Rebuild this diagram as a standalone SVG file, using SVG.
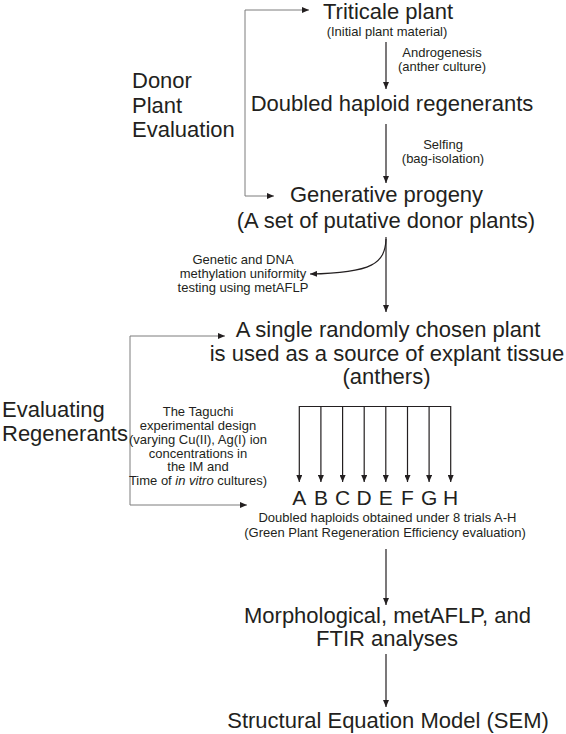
<svg xmlns="http://www.w3.org/2000/svg" width="566" height="734" viewBox="0 0 566 734">
<style>
text{font-family:"Liberation Sans",Arial,sans-serif;fill:#231f20}
.big{font-size:22px}
.sm{font-size:13px}
.trial{font-size:21px}
.mid{text-anchor:middle}
.ln{fill:none;stroke:#231f20;stroke-width:1.2}
.br{fill:none;stroke:#7d7d7d;stroke-width:1}
</style>
<defs>
<marker id="ah" viewBox="0 0 7 6" refX="7" refY="3" markerWidth="7" markerHeight="6" markerUnits="userSpaceOnUse" orient="auto"><path d="M0,0 L7,3 L0,6 z" fill="#231f20"/></marker>
<marker id="ahg" viewBox="0 0 7 6" refX="7" refY="3" markerWidth="7" markerHeight="6" markerUnits="userSpaceOnUse" orient="auto"><path d="M0,0 L7,3 L0,6 z" fill="#231f20"/></marker>
</defs>

<g id="connectors">
<path class="ln" d="M386,42 V89" marker-end="url(#ah)"/>
<path class="ln" d="M386,124 V183" marker-end="url(#ah)"/>
<path class="ln" d="M386,237 V312" marker-end="url(#ah)"/>
<path class="ln" d="M386,239 C385,263 373,273 310,274" marker-end="url(#ah)"/>
<path class="ln" d="M299.3,406.5 H450.7"/>
<path class="ln" d="M299.3,406 V482" marker-end="url(#ah)"/>
<path class="ln" d="M320.9,406 V482" marker-end="url(#ah)"/>
<path class="ln" d="M342.6,406 V482" marker-end="url(#ah)"/>
<path class="ln" d="M364.2,406 V482" marker-end="url(#ah)"/>
<path class="ln" d="M385.8,406 V482" marker-end="url(#ah)"/>
<path class="ln" d="M407.5,406 V482" marker-end="url(#ah)"/>
<path class="ln" d="M429.1,406 V482" marker-end="url(#ah)"/>
<path class="ln" d="M450.7,406 V482" marker-end="url(#ah)"/>
<path class="ln" d="M386,549 V605" marker-end="url(#ah)"/>
<path class="ln" d="M386,654 V707" marker-end="url(#ah)"/>
<path class="br" d="M245,10 V196"/>
<path class="br" d="M245,10 H309" marker-end="url(#ahg)"/>
<path class="br" d="M245,196 H274" marker-end="url(#ahg)"/>
<path class="br" d="M130,336 V505"/>
<path class="br" d="M130,336 H225" marker-end="url(#ahg)"/>
<path class="br" d="M130,505 H247" marker-end="url(#ahg)"/>
</g>

<g id="donor-label">
<text class="big" x="132" y="88">Donor</text>
<text class="big" x="132" y="113">Plant</text>
<text class="big" x="132" y="137">Evaluation</text>
</g>

<g id="triticale">
<text class="big mid" x="388" y="19">Triticale plant</text>
<text class="sm mid" x="387" y="36">(Initial plant material)</text>
</g>

<g id="androgenesis-label">
<text class="sm mid" x="442" y="57">Androgenesis</text>
<text class="sm mid" x="442" y="71">(anther culture)</text>
</g>

<g id="doubled-haploid">
<text class="big mid" x="392" y="111">Doubled haploid regenerants</text>
</g>

<g id="selfing-label">
<text class="sm mid" x="443" y="149">Selfing</text>
<text class="sm mid" x="443" y="163">(bag-isolation)</text>
</g>

<g id="generative">
<text class="big mid" x="386.5" y="202">Generative progeny</text>
<text class="big mid" x="386" y="228">(A set of putative donor plants)</text>
</g>

<g id="uniformity-label">
<text class="sm mid" x="243" y="264">Genetic and DNA</text>
<text class="sm mid" x="243" y="278">methylation uniformity</text>
<text class="sm mid" x="243" y="292">testing using metAFLP</text>
</g>

<g id="single-plant">
<text class="big mid" x="388" y="337">A single randomly chosen plant</text>
<text class="big mid" x="387" y="361">is used as a source of explant tissue</text>
<text class="big mid" x="386.5" y="384">(anthers)</text>
</g>

<g id="evaluating-label">
<text class="big" x="2" y="417">Evaluating</text>
<text class="big" x="2" y="441">Regenerants</text>
</g>

<g id="taguchi-label">
<text class="sm mid" x="198" y="416">The Taguchi</text>
<text class="sm mid" x="198" y="430">experimental design</text>
<text class="sm mid" x="198" y="444">(varying Cu(II), Ag(I) ion</text>
<text class="sm mid" x="198" y="457.5">concentrations in</text>
<text class="sm mid" x="198" y="471">the IM and</text>
<text class="sm mid" x="198" y="485">Time of <tspan font-style="italic">in vitro</tspan> cultures)</text>
</g>

<g id="trials">
<text class="trial mid" x="299.3" y="505">A</text>
<text class="trial mid" x="320.9" y="505">B</text>
<text class="trial mid" x="342.6" y="505">C</text>
<text class="trial mid" x="364.2" y="505">D</text>
<text class="trial mid" x="385.8" y="505">E</text>
<text class="trial mid" x="407.5" y="505">F</text>
<text class="trial mid" x="429.1" y="505">G</text>
<text class="trial mid" x="450.7" y="505">H</text>
<text class="sm mid" x="387.5" y="522">Doubled haploids obtained under 8 trials A-H</text>
<text class="sm mid" x="385" y="537">(Green Plant Regeneration Efficiency evaluation)</text>
</g>

<g id="analyses">
<text class="big mid" x="387.5" y="623">Morphological, metAFLP, and</text>
<text class="big mid" x="387" y="646">FTIR analyses</text>
</g>

<g id="sem">
<text class="big mid" x="388" y="728">Structural Equation Model (SEM)</text>
</g>
</svg>
